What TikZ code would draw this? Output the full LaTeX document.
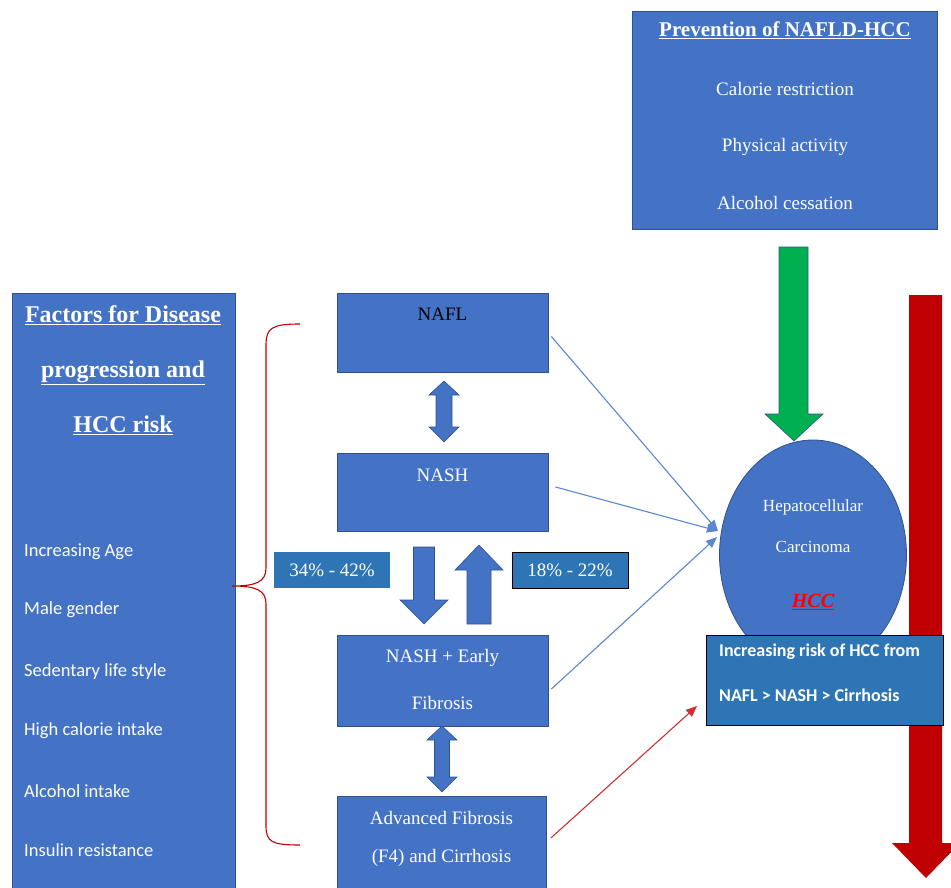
\documentclass[tikz,border=0pt]{standalone}
\usepackage{fontspec}
\setmainfont{Liberation Serif}
\newfontfamily\calfont{Carlito}
\usetikzlibrary{shapes.geometric,arrows.meta,calc}
\definecolor{nblue}{HTML}{4472C4}
\definecolor{bblue}{HTML}{2F528F}
\definecolor{mblue}{HTML}{2E75B6}
\definecolor{lblue}{HTML}{5B87D0}
\definecolor{ngreen}{HTML}{00B050}
\definecolor{nred}{HTML}{C00000}
\definecolor{bred}{HTML}{D03030}
\begin{document}
\begin{tikzpicture}[x=1pt,y=-1pt,
  boxst/.style={draw=bblue, fill=nblue, line width=0.8pt, inner sep=0pt},
  pctbox/.style={fill=mblue, inner sep=0pt, minimum width=116pt, minimum height=36pt, text=white, font=\fontsize{19}{22}\selectfont},
  serift/.style={text=white, inner sep=0pt, font=\fontsize{19}{22}\selectfont},
  titlet/.style={text=white, inner sep=0pt, font=\bfseries\fontsize{21}{24}\selectfont},
  calt/.style={text=white, inner sep=0pt, anchor=west, font=\calfont\fontsize{18.5}{22}\selectfont},
  blockarr/.style={fill=nblue, draw=bblue, line width=0.6pt},
  thinarr/.style={draw=lblue, line width=1.1pt, -{Triangle[length=11pt,width=9pt]}}
]
\useasboundingbox (0,0) rectangle (951,888);
\clip (0,0) rectangle (951,888);

% prevention box
\node[boxst, minimum width=305pt, minimum height=218pt] (prev) at (784.5,120) {};
\node[titlet] (prevt) at (785,30) {\underline{Prevention of NAFLD-HCC}};
\node[serift] (prev1) at (785,89) {Calorie restriction};
\node[serift] (prev2) at (785,147) {Physical activity};
\node[serift] (prev3) at (785,203) {Alcohol cessation};

% green arrow
\fill[ngreen, draw=bblue, line width=0.6pt] (779,247) -- (808,247) -- (808,414) -- (823,414) -- (794,441) -- (765,414) -- (779,414) -- cycle;

% red arrow
\fill[nred] (909,295) -- (942,295) -- (942,843) -- (960,843) -- (926,878) -- (892,843) -- (909,843) -- cycle;

% factors box
\node[boxst, minimum width=223pt, minimum height=607pt] (fact) at (123.5,596.5) {};
\node[titlet, font=\bfseries\fontsize{24}{27}\selectfont] (ft1) at (123,315) {\underline{Factors for Disease}};
\node[titlet, font=\bfseries\fontsize{24}{27}\selectfont] (ft2) at (123,373) {\underline{progression and}};
\node[titlet, font=\bfseries\fontsize{24}{27}\selectfont] (ft3) at (123,425) {\underline{HCC risk}};
\node[calt] (f1) at (24,552) {Increasing Age};
\node[calt] (f2) at (24,610) {Male gender};
\node[calt] (f3) at (24,672) {Sedentary life style};
\node[calt] (f4) at (24,731) {High calorie intake};
\node[calt] (f5) at (24,791) {Alcohol intake};
\node[calt] (f6) at (24,850) {Insulin resistance};

% brace
\draw[nred, line width=1.1pt] (300,324) .. controls (272,324) and (266,328) .. (266,345) -- (266,568)
  .. controls (266,582) and (256,586) .. (232,586)
  (232,586) .. controls (256,586) and (266,590) .. (266,604) -- (266,826)
  .. controls (266,842) and (272,845) .. (300,845);

% stage boxes
\node[boxst, minimum width=211pt, minimum height=79pt] (nafl) at (442.5,332.5) {};
\node[serift, text=black] (naflt) at (442.5,314) {NAFL};
\node[boxst, minimum width=211pt, minimum height=78pt] (nash) at (442.5,492) {};
\node[serift] (nasht) at (442.5,475) {NASH};
\node[boxst, minimum width=211pt, minimum height=91pt] (fib) at (442.5,680.5) {};
\node[serift] (fibt1) at (442.5,658) {NASH + Early};
\node[serift] (fibt2) at (442.5,703) {Fibrosis};
\node[boxst, minimum width=209pt, minimum height=104pt] (adv) at (441.5,848) {};
\node[serift] (advt1) at (441.5,818) {Advanced Fibrosis};
\node[serift] (advt2) at (441.5,858) {(F4) and Cirrhosis};

% percentage boxes
\node[pctbox] (p1) at (332,570) {34\% - 42\%};
\node[pctbox, draw=black, line width=1pt] (p2) at (570,570) {18\% - 22\%};

% block arrows between stages
\filldraw[blockarr] (444,381) -- (459,395) -- (452,395) -- (452,427) -- (459,427) -- (444,442) -- (429,427) -- (436,427) -- (436,395) -- (429,395) -- cycle;
\filldraw[blockarr] (442,726) -- (457,740) -- (449.5,740) -- (449.5,777) -- (457,777) -- (442,792) -- (427,777) -- (434.5,777) -- (434.5,740) -- (427,740) -- cycle;
\filldraw[blockarr] (413.5,547) -- (434.5,547) -- (434.5,600) -- (448,600) -- (424,624) -- (400,600) -- (413.5,600) -- cycle;
\filldraw[blockarr] (467,624) -- (491,624) -- (491,570) -- (503,570) -- (479,545) -- (455,570) -- (467,570) -- cycle;

% HCC ellipse
\node[ellipse, draw=bblue, fill=nblue, line width=0.8pt, minimum width=187pt, minimum height=230pt, inner sep=0pt] (hcc) at (813,555) {};
\node[serift, font=\fontsize{17}{20}\selectfont] (hcct1) at (813,507) {Hepatocellular};
\node[serift, font=\fontsize{17}{20}\selectfont] (hcct2) at (813,547) {Carcinoma};
\node[inner sep=0pt, text=red, font=\bfseries\itshape\fontsize{20}{23}\selectfont] (hcct3) at (813,602) {\underline{HCC}};

% risk box
\node[fill=mblue, draw=black, line width=1pt, minimum width=237pt, minimum height=90pt, inner sep=0pt] (risk) at (824.5,680) {};
\node[calt, font=\calfont\bfseries\fontsize{18}{22}\selectfont] (riskt1) at (719,652) {Increasing risk of HCC from};
\node[calt, font=\calfont\bfseries\fontsize{18}{22}\selectfont] (riskt2) at (719,695) {NAFL > NASH > Cirrhosis};

% connectors
\coordinate (tipa) at (718,531);
\coordinate (tipb) at (717,537);
\coordinate (tipr) at (697,706);
\draw[thinarr] ([xshift=3pt,yshift=-4pt]nafl.east) -- (tipa);
\draw[thinarr] ([xshift=7pt,yshift=5pt]nash.east) -- (tipa);
\draw[thinarr] ([xshift=3pt,yshift=-8.5pt]fib.east) -- (tipb);
\draw[draw=bred, line width=1.1pt, -{Triangle[length=11pt,width=9pt]}] ([xshift=4.5pt,yshift=10pt]adv.east) -- (tipr);
\end{tikzpicture}
\end{document}
